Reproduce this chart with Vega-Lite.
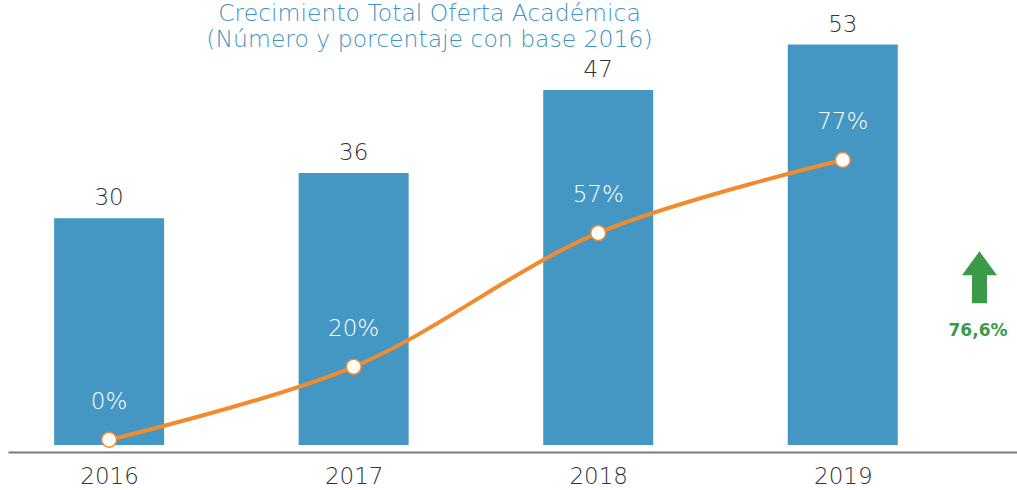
{
  "$schema": "https://vega.github.io/schema/vega-lite/v6.json",
  "width": 1009,
  "height": 445,
  "autosize": {"type": "none"},
  "padding": {"left": 8, "top": 0, "right": 0, "bottom": 45},
  "background": "white",
  "config": {"view": {"stroke": null}, "font": "DejaVu Sans ExtraLight, DejaVu Sans"},
  "title": {
    "text": ["Crecimiento Total Oferta Académica", "(Número y porcentaje con base 2016)"],
    "anchor": "middle",
    "frame": "group",
    "dx": -83,
    "baseline": "top",
    "dy": 55,
    "font": "DejaVu Sans ExtraLight, DejaVu Sans",
    "fontSize": 23.5,
    "fontWeight": 200,
    "lineHeight": 26,
    "color": "#3f93c3"
  },
  "datasets": {
    "main": [
      {"year": 2016, "n": 30, "pct": 0},
      {"year": 2017, "n": 36, "pct": 0.2},
      {"year": 2018, "n": 47, "pct": 0.567},
      {"year": 2019, "n": 53, "pct": 0.767}
    ],
    "note": [{"label": "76,6%"}]
  },
  "data": {"name": "main"},
  "resolve": {"scale": {"y": "independent"}},
  "layer": [
    {
      "layer": [
        {
          "mark": {"type": "bar", "size": 110, "color": "#4597c3"},
          "encoding": {
            "x": {
              "field": "year", "type": "quantitative",
              "scale": {"domain": [2015.607, 2019.692], "nice": false, "zero": false},
              "axis": {
                "values": [2016, 2017, 2018, 2019], "format": "d", "title": null,
                "grid": false, "ticks": false, "offset": 7,
                "domainColor": "#7a7a7a", "domainWidth": 2,
                "labelFontSize": 23, "labelColor": "#333333",
                "labelFont": "DejaVu Sans ExtraLight, DejaVu Sans",
                "labelFontWeight": 200, "labelPadding": 13
              }
            },
            "y": {"field": "n", "type": "quantitative", "scale": {"domain": [0, 58.9], "nice": false}, "axis": null}
          }
        },
        {
          "mark": {"type": "text", "dy": -20, "fontSize": 23, "fontWeight": 200, "color": "#333333", "baseline": "middle"},
          "encoding": {
            "x": {"field": "year", "type": "quantitative"},
            "y": {"field": "n", "type": "quantitative"},
            "text": {"field": "n", "type": "quantitative"}
          }
        },
        {
          "data": {"name": "note"},
          "mark": {
            "type": "point", "filled": true, "color": "#3a9a47", "opacity": 1, "size": 2704,
            "shape": "M0,-1L0.673,-0.077L0.29,-0.077L0.29,1L-0.29,1L-0.29,-0.077L-0.673,-0.077Z"
          },
          "encoding": {
            "x": {"datum": 2019.559, "type": "quantitative"},
            "y": {"datum": 22.2, "type": "quantitative"}
          }
        },
        {
          "data": {"name": "note"},
          "mark": {"type": "text", "font": "DejaVu Sans", "fontSize": 17, "fontWeight": "bold", "color": "#3a9a47", "baseline": "middle"},
          "encoding": {
            "x": {"datum": 2019.553, "type": "quantitative"},
            "y": {"datum": 15.1, "type": "quantitative"},
            "text": {"field": "label"}
          }
        }
      ]
    },
    {
      "layer": [
        {
          "mark": {"type": "line", "color": "#f28a2e", "strokeWidth": 4, "interpolate": "catmull-rom"},
          "encoding": {
            "x": {"field": "year", "type": "quantitative"},
            "y": {"field": "pct", "type": "quantitative", "scale": {"domain": [-0.0143, 1.2056], "nice": false, "zero": false}, "axis": null}
          }
        },
        {
          "mark": {"type": "point", "filled": true, "fill": "white", "stroke": "#f28a2e", "strokeWidth": 1.5, "size": 225, "opacity": 1},
          "encoding": {
            "x": {"field": "year", "type": "quantitative"},
            "y": {"field": "pct", "type": "quantitative"}
          }
        },
        {
          "mark": {"type": "text", "dy": -38, "fontSize": 23, "fontWeight": 200, "color": "white", "baseline": "middle"},
          "encoding": {
            "x": {"field": "year", "type": "quantitative"},
            "y": {"field": "pct", "type": "quantitative"},
            "text": {"field": "pct", "type": "quantitative", "format": ".0%"}
          }
        }
      ]
    }
  ]
}
